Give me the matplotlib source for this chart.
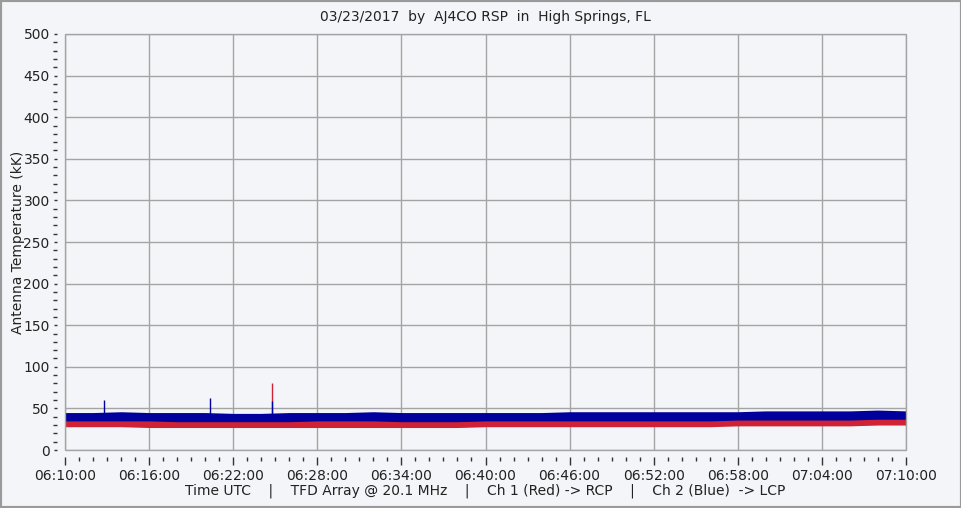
import numpy as np
import matplotlib
matplotlib.use('Agg')
import matplotlib.pyplot as plt
import matplotlib.dates as mdates
from matplotlib.patches import Rectangle
from datetime import datetime, timedelta

# envelope of the two channels, read every 2 minutes from 06:10 to 07:10 (kK)
minutes = list(range(0, 61, 2))
blue_top = [45, 45, 46, 45, 45, 45, 44, 44, 45, 45, 45, 46, 45, 45, 45, 45,
            45, 45, 46, 46, 46, 46, 46, 46, 46, 47, 47, 47, 47, 48, 47]
blue_bot = [35, 35, 35, 35, 34, 34, 34, 34, 34, 35, 35, 35, 34, 34, 34, 35,
            35, 35, 35, 35, 35, 35, 35, 35, 36, 36, 36, 36, 36, 37, 37]
red_top = [37, 37, 37, 36, 36, 36, 36, 36, 36, 36, 36, 36, 36, 36, 36, 36,
           36, 36, 36, 37, 37, 37, 37, 37, 37, 37, 37, 38, 38, 38, 38]
red_bot = [28, 28, 28, 27, 27, 27, 27, 27, 27, 27, 27, 27, 27, 27, 27, 28,
           28, 28, 28, 28, 28, 28, 28, 28, 29, 29, 29, 29, 29, 30, 30]

# isolated spikes: (time, peak kK)
blue_spikes = [('06:12:47', 60), ('06:20:20', 63), ('06:24:46', 59)]
red_spikes = [('06:24:46', 80)]

TITLE = '03/23/2017  by  AJ4CO RSP  in  High Springs, FL'
XLABEL = ('Time UTC    |    TFD Array @ 20.1 MHz    |    Ch 1 (Red) -> RCP'
          '    |    Ch 2 (Blue)  -> LCP')
YLABEL = 'Antenna Temperature (kK)'

BG = '#f4f5f8'
GRID = '#a4a4a4'
BLUE = '#00009c'
RED = '#cf2234'
TXT = '#222222'

start = datetime(2017, 3, 23, 6, 10, 0)
t = [start + timedelta(minutes=m) for m in minutes]


def to_time(s):
    h, m, sec = map(int, s.split(':'))
    return datetime(2017, 3, 23, h, m, sec)


fig = plt.figure(figsize=(9.62, 5.08), dpi=100, facecolor=BG)
ax = fig.add_axes([65 / 962, 58 / 508, 841 / 962, 416 / 508])
ax.set_facecolor(BG)

ax.fill_between(t, red_bot, red_top, color=RED, lw=0, zorder=3)
for s, v in red_spikes:
    ax.vlines(to_time(s), 30, v, color=RED, lw=1, zorder=3)
ax.fill_between(t, blue_bot, blue_top, color=BLUE, lw=0, zorder=4)
for s, v in blue_spikes:
    ax.vlines(to_time(s), 40, v, color=BLUE, lw=1, zorder=4)

ax.set_xlim(start, start + timedelta(minutes=60))
ax.set_ylim(0, 500)

ax.xaxis.set_major_locator(mdates.MinuteLocator(byminute=[4, 10, 16, 22, 28, 34, 40, 46, 52, 58]))
ax.xaxis.set_minor_locator(mdates.MinuteLocator(interval=1))
ax.xaxis.set_major_formatter(mdates.DateFormatter('%H:%M:%S'))
ax.set_yticks(np.arange(0, 501, 50))
ax.set_yticks(np.arange(0, 501, 10), minor=True)

ax.grid(True, which='major', color=GRID, lw=1, zorder=1)
for sp in ax.spines.values():
    sp.set_visible(False)
ax.spines['bottom'].set_position(('outward', 5))
ax.spines['left'].set_position(('outward', 6))
ax.add_patch(Rectangle((0, 0), 1, 1, transform=ax.transAxes, fill=False,
                       edgecolor=GRID, lw=1, zorder=5, clip_on=False))

ax.tick_params(axis='x', which='major', length=6, width=1, color='#333333',
               pad=3, labelsize=10, labelcolor=TXT)
ax.tick_params(axis='x', which='minor', length=3, width=1, color='#333333')
ax.tick_params(axis='y', which='major', length=2, width=1, color='#333333',
               pad=3, labelsize=10, labelcolor=TXT)
ax.tick_params(axis='y', which='minor', length=3, width=1, color='#333333')

ax.set_title(TITLE, fontsize=10, color=TXT, pad=9)
ax.set_xlabel(XLABEL, fontsize=10, color=TXT)
ax.xaxis.set_label_coords(0.5, -(483 - 450) / 416)
ax.set_ylabel(YLABEL, fontsize=10, color=TXT)
ax.yaxis.set_label_coords(-(65 - 25) / 841, 0.5)

fig.add_artist(Rectangle((0, 0), 1, 1, transform=fig.transFigure, fill=False,
                         edgecolor='#9a9a9a', lw=3))

fig.savefig('out.png', dpi=100, facecolor=BG)
